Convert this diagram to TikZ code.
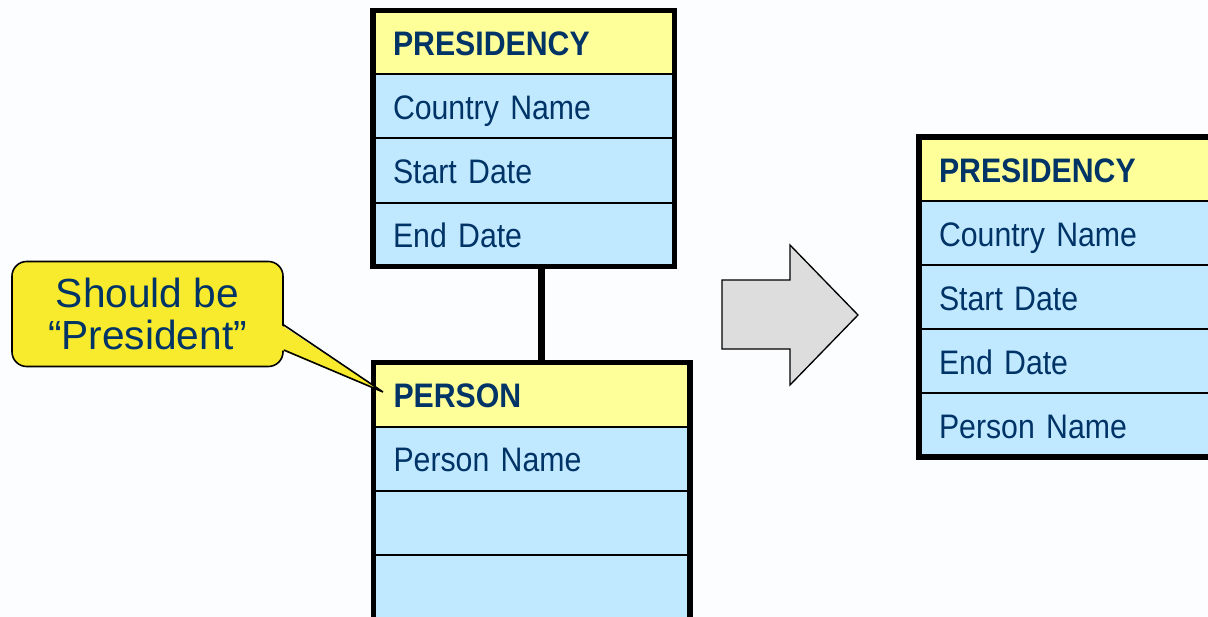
\documentclass[tikz,border=0pt]{standalone}
\usepackage{fontspec}
\newfontfamily\erfont[FakeStretch=0.89,WordSpace=0.6]{Liberation Sans}
\newfontfamily\notefont{Liberation Sans}
\definecolor{pagebg}{RGB}{252,253,255}
\definecolor{erblue}{RGB}{0,51,102}
\definecolor{headyellow}{RGB}{255,255,153}
\definecolor{rowblue}{RGB}{192,232,255}
\definecolor{noteyellow}{RGB}{248,234,44}
\definecolor{arrowgray}{RGB}{221,221,221}
\begin{document}
\begin{tikzpicture}[x=0.75pt,y=-0.75pt,
  cell/.style={draw=black, line width=1.5pt, outer sep=0pt, inner xsep=15pt,
    inner ysep=0pt, minimum height=48pt, text width=#1, align=left,
    anchor=north west, text=erblue, text height=21pt, text depth=1.5pt,
    font=\erfont\fontsize{25.5}{30}\selectfont},
  head/.style={cell=#1, fill=headyellow,
    font=\erfont\bfseries\fontsize{25.5}{30}\selectfont},
  attr/.style={cell=#1, fill=rowblue},
  frame/.style={draw=black, line width=4.2pt, line join=miter},
  link/.style={draw=black, line width=5.25pt},
  balloon/.style={draw=black, line width=1.2pt, fill=noteyellow,
    rounded corners=11pt, minimum width=203.25pt, minimum height=78.75pt,
    align=center, text=erblue, font=\notefont\fontsize{30.5}{31}\selectfont},
  bigarrow/.style={draw=black, line width=1pt, fill=arrowgray, line join=miter}]

\clip (0,0) rectangle (1208,617);
\fill[pagebg] (0,0) rectangle (1208,617);

% PRESIDENCY entity (before)
\node[head=196pt] (a0) at (373,10.5) {PRESIDENCY};
\node[attr=196pt] (a1) at (a0.south west) {Country Name};
\node[attr=196pt] (a2) at (a1.south west) {Start Date};
\node[attr=196pt] (a3) at (a2.south west) {End Date};
\draw[frame] (a0.north west) rectangle (a3.south east);

% PERSON entity
\node[head=207.4pt] (b0) at (373.5,362.5) {PERSON};
\node[attr=207.4pt] (b1) at (b0.south west) {Person Name};
\node[attr=207.4pt] (b2) at (b1.south west) {};
\node[attr=207.4pt] (b3) at (b2.south west) {};
\draw[frame] (b3.south west) -- (b0.north west) -- (b0.north east) -- (b3.south east);

% relationship line
\coordinate (rel) at (541.5,0);
\draw[link] (a3.south -| rel) -- (b0.north -| rel);

% PRESIDENCY entity (after)
\node[head=230pt] (c0) at (919,137) {PRESIDENCY};
\node[attr=230pt] (c1) at (c0.south west) {Country Name};
\node[attr=230pt] (c2) at (c1.south west) {Start Date};
\node[attr=230pt] (c3) at (c2.south west) {End Date};
\node[attr=230pt] (c4) at (c3.south west) {Person Name};
\draw[frame] (c0.north west) rectangle (c4.south east);

% callout
\node[balloon] (note) at (147.5,314) {Should be\\“President”};
\coordinate (pa) at (note.east |- 0,325);
\coordinate (pb) at (note.east |- 0,350);
\coordinate (tip) at (383,392);
\fill[noteyellow] ([xshift=-2pt]pa) -- (tip) -- ([xshift=-2pt]pb) -- cycle;
\draw[line width=1.2pt, line join=miter] (pa) -- (tip) -- (pb);

% transformation arrow
\draw[bigarrow] (722,280) -- (790,280) -- (790,245) -- (858,315)
  -- (790,385) -- (790,349) -- (722,349) -- cycle;
\end{tikzpicture}
\end{document}
